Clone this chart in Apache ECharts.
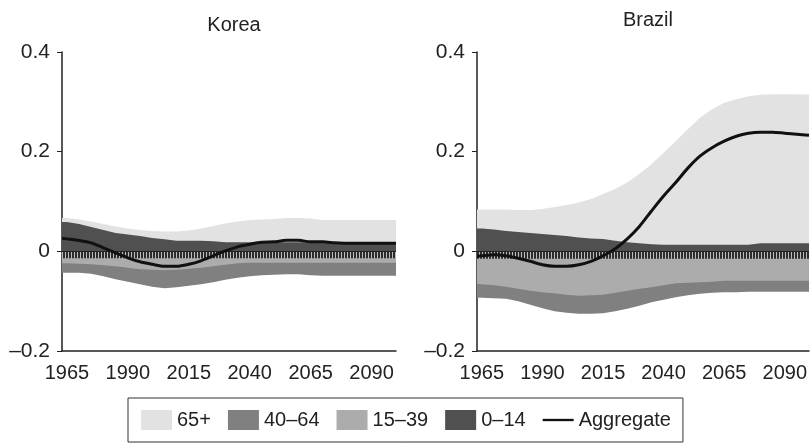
<!DOCTYPE html>
<html>
<head>
<meta charset="utf-8">
<script src="https://cdn.jsdelivr.net/npm/echarts@6/dist/echarts.min.js"></script>
<style>html,body{margin:0;padding:0;background:#fff}#c{width:810px;height:445px}</style>
</head>
<body>
<div id="c"></div>
<script>
// ---- data (band thicknesses) ----
const years = [1963,1965,1970,1975,1980,1985,1990,1995,2000,2005,2010,2015,2020,2025,2030,2035,2040,2045,2050,2055,2060,2065,2070,2075,2080,2085,2090,2095,2100];
const xTickLabels = [1965,1990,2015,2040,2065,2090];
const panelTitles = ['Korea','Brazil'];

const korea65 = [.008,.008,.009,.011,.012,.013,.012,.012,.014,.016,.019,.021,.025,.031,.038,.042,.045,.046,.047,.049,.049,.048,.045,.045,.045,.045,.045,.045,.045];
const korea0_14 = [.059,.059,.055,.049,.043,.037,.034,.031,.027,.024,.021,.021,.021,.020,.018,.018,.018,.018,.018,.018,.018,.018,.018,.018,.018,.018,.018,.018,.018];
const korea0_14Neg = [-.014,-.014,-.014,-.014,-.014,-.014,-.014,-.014,-.014,-.014,-.014,-.014,-.014,-.014,-.014,-.014,-.014,-.014,-.014,-.014,-.014,-.014,-.014,-.014,-.014,-.014,-.014,-.014,-.014];
const korea15_39 = [-.010,-.010,-.011,-.012,-.014,-.016,-.019,-.022,-.023,-.024,-.023,-.021,-.019,-.016,-.013,-.010,-.009,-.009,-.009,-.009,-.009,-.009,-.009,-.009,-.009,-.009,-.009,-.009,-.009];
const korea40_64 = [-.019,-.019,-.018,-.019,-.022,-.026,-.028,-.030,-.034,-.036,-.035,-.034,-.033,-.032,-.030,-.029,-.027,-.025,-.024,-.023,-.023,-.025,-.026,-.026,-.026,-.026,-.026,-.026,-.026];
const koreaAggregate = [.026,.025,.022,.017,.007,-.003,-.013,-.021,-.026,-.030,-.030,-.026,-.019,-.009,.001,.009,.014,.018,.019,.022,.022,.019,.019,.017,.016,.016,.016,.016,.016];

const brazil65 = [.038,.038,.040,.043,.044,.046,.050,.056,.062,.070,.079,.090,.104,.120,.139,.161,.185,.208,.232,.255,.272,.285,.292,.298,.298,.299,.299,.299,.298];
const brazil0_14 = [.046,.046,.044,.041,.039,.037,.035,.033,.031,.028,.026,.025,.021,.018,.016,.014,.013,.013,.013,.013,.013,.013,.013,.013,.016,.016,.016,.016,.016];
const brazil0_14Neg = [-.015,-.015,-.015,-.015,-.015,-.015,-.015,-.015,-.015,-.015,-.015,-.015,-.015,-.015,-.015,-.015,-.015,-.015,-.015,-.015,-.015,-.015,-.015,-.015,-.015,-.015,-.015,-.015,-.015];
const brazil15_39 = [-.050,-.051,-.053,-.056,-.060,-.064,-.067,-.069,-.072,-.074,-.073,-.072,-.068,-.064,-.060,-.057,-.053,-.049,-.048,-.047,-.046,-.044,-.044,-.044,-.044,-.044,-.044,-.044,-.044];
const brazil40_64 = [-.028,-.027,-.026,-.024,-.025,-.028,-.032,-.036,-.036,-.036,-.037,-.037,-.037,-.036,-.034,-.030,-.029,-.028,-.025,-.023,-.022,-.023,-.023,-.022,-.022,-.022,-.022,-.022,-.022];
const brazilAggregate = [-.010,-.009,-.007,-.009,-.014,-.020,-.027,-.030,-.030,-.027,-.020,-.009,.005,.025,.050,.081,.111,.138,.167,.191,.208,.221,.231,.237,.239,.239,.237,.235,.233];

// ---- styles ----
const FONT = "'Liberation Sans', Arial, Helvetica, sans-serif";
const C65 = '#e2e2e2', C40 = '#808080', C15 = '#acacac', C0 = '#505050', CLINE = '#111';

const pc = document.createElement('canvas');
pc.width = 3; pc.height = 4;
const pctx = pc.getContext('2d');
pctx.fillStyle = '#bcbcbc'; pctx.fillRect(0, 0, 3, 4);
pctx.fillStyle = '#2c2c2c'; pctx.fillRect(0, 0, 2, 4);
const stripe = { image: pc, repeat: 'repeat' };

// cumulative stacking of bands (drawn as overlapping areas from zero)
const addArr = (a, b) => a.map((v, i) => v + b[i]);
const pairs = arr => years.map((y, i) => [y, arr[i]]);

function areaSeries(name, arr, idx, color, fill, z) {
  return {
    name, type: 'line', xAxisIndex: idx, yAxisIndex: idx,
    data: pairs(arr), symbol: 'none', color: color,
    lineStyle: { width: 0, opacity: 0 },
    areaStyle: { color: fill || color, opacity: 1, origin: 0 },
    itemStyle: { color: color },
    silent: true, z: z || 2
  };
}

const panels = [
  { p65: korea65, p0: korea0_14, p0n: korea0_14Neg, p15: korea15_39, p40: korea40_64, agg: koreaAggregate },
  { p65: brazil65, p0: brazil0_14, p0n: brazil0_14Neg, p15: brazil15_39, p40: brazil40_64, agg: brazilAggregate }
];

const series = [];
panels.forEach((p, i) => {
  const top0 = p.p0;
  const top65 = addArr(top0, p.p65);
  const bot0 = p.p0n;
  const bot15 = addArr(bot0, p.p15);
  const bot40 = addArr(bot15, p.p40);
  series.push(areaSeries('0–14', top0, i, C0, null, 2));
  series.push(areaSeries('65+', top65, i, C65, null, 1));
  series.push(areaSeries('40–64', bot40, i, C40, null, 2));
  series.push(areaSeries('15–39', bot15, i, C15, null, 2));
  series.push(areaSeries('0–14', bot0, i, C0, stripe, 2));
  series.push({
    name: 'Aggregate', type: 'line', xAxisIndex: i, yAxisIndex: i,
    data: pairs(p.agg), symbol: 'none', smooth: 0.3, color: CLINE,
    lineStyle: { width: 3, color: CLINE }, itemStyle: { color: CLINE }, z: 5,
    markLine: {
      silent: true, symbol: 'none', label: { show: false },
      lineStyle: { color: '#222', width: 1, type: 'solid' },
      data: [{ yAxis: 0 }]
    }
  });
});

const grids = [
  { left: 62, top: 52, width: 334, height: 299 },
  { left: 477, top: 52, width: 334, height: 299 }
];

const xAxes = grids.map((g, i) => ({
  type: 'value', gridIndex: i, min: 1963, max: 2100,
  axisLine: { onZero: false, lineStyle: { color: '#222', width: 1.5 } },
  axisTick: { show: false }, splitLine: { show: false },
  axisLabel: { customValues: xTickLabels, color: '#222', fontSize: 20, fontFamily: FONT, margin: 12, formatter: v => String(v) }
}));
const yAxes = grids.map((g, i) => ({
  type: 'value', gridIndex: i, min: -0.2, max: 0.4, interval: 0.2,
  axisLine: { show: true, lineStyle: { color: '#222', width: 1.5 } },
  axisTick: { show: true, length: 5, lineStyle: { color: '#222', width: 1 } },
  splitLine: { show: false },
  axisLabel: {
    color: '#222', fontSize: 21, fontFamily: FONT, margin: 12,
    formatter: v => { const r = Math.round(v * 10) / 10; return r === 0 ? '0' : (r < 0 ? '–' + Math.abs(r) : String(r)); }
  }
}));

const chart = echarts.init(document.getElementById('c'), null, { renderer: 'canvas' });
chart.setOption({
  animation: false,
  backgroundColor: '#fff',
  title: [
    { text: panelTitles[0], left: 229, top: 10, textAlign: 'center', textStyle: { fontFamily: FONT, fontSize: 20, fontWeight: 'normal', color: '#222' } },
    { text: panelTitles[1], left: 643, top: 5, textAlign: 'center', textStyle: { fontFamily: FONT, fontSize: 20, fontWeight: 'normal', color: '#222' } }
  ],
  grid: grids,
  xAxis: xAxes,
  yAxis: yAxes,
  legend: {
    left: 128, top: 398,
    padding: [12, 12, 12, 13],
    borderColor: '#333', borderWidth: 1,
    itemWidth: 31, itemHeight: 20, itemGap: 17,
    textStyle: { fontFamily: FONT, fontSize: 20, color: '#222' },
    data: [
      { name: '65+', icon: 'rect' },
      { name: '40–64', icon: 'rect' },
      { name: '15–39', icon: 'rect' },
      { name: '0–14', icon: 'rect' },
      { name: 'Aggregate', icon: 'path://M0,0 L40,0 L40,3 L0,3 Z' }
    ]
  },
  series
});
</script>
</body>
</html>
